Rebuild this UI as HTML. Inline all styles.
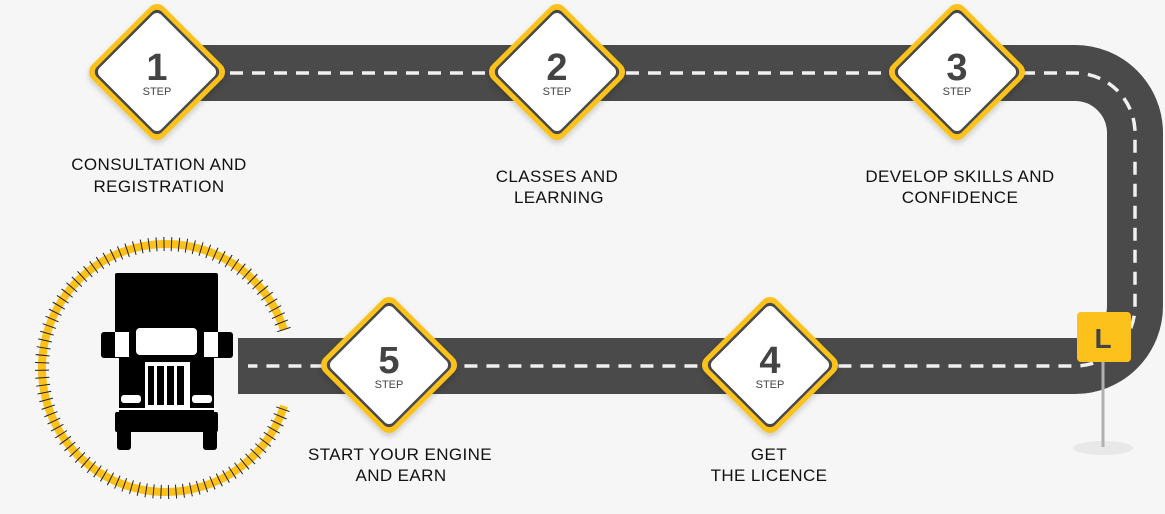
<!DOCTYPE html>
<html><head><meta charset="utf-8"><style>
html,body{margin:0;padding:0;background:#f6f6f6;}
svg{display:block;font-family:"Liberation Sans",Arial,sans-serif;}
</style></head><body>
<svg width="1165" height="514" viewBox="0 0 1165 514" xmlns="http://www.w3.org/2000/svg">
<defs>
<g id="dia">
  <rect x="-51" y="-51" width="102" height="102" rx="10" transform="rotate(45)" fill="#fcc21b"/>
  <rect x="-46" y="-46" width="92" height="92" rx="7" transform="rotate(45)" fill="#4a4a4a"/>
  <rect x="-43.5" y="-43.5" width="87" height="87" rx="6" transform="rotate(45)" fill="#fff"/>
</g>
<filter id="sh" x="-30%" y="-30%" width="160%" height="160%"><feDropShadow dx="0" dy="3" stdDeviation="3" flood-color="#000" flood-opacity="0.18"/></filter>
</defs>
<rect width="1165" height="514" fill="#f6f6f6"/>
<path d="M190 73 H1075 A60 60 0 0 1 1135 133 V306 A60 60 0 0 1 1075 366 H238" fill="none" stroke="#4a4a4a" stroke-width="56"/>
<path d="M230 73 H1075 A60 60 0 0 1 1135 133 V306 A60 60 0 0 1 1075 366 H238" fill="none" stroke="#f0f0f0" stroke-width="3.5" stroke-dasharray="13 9"/>
<ellipse cx="1103" cy="448" rx="30" ry="7" fill="#e8e8e8"/>
<rect x="1101.5" y="355" width="3" height="92" fill="#b0b0b0"/>
<rect x="1077" y="312" width="54" height="50" rx="4" fill="#fcc21b"/>
<text x="1103" y="348" text-anchor="middle" font-size="28" font-weight="bold" fill="#444">L</text>
<g filter="url(#sh)">
<use href="#dia" x="157" y="72"/>
<use href="#dia" x="557" y="72"/>
<use href="#dia" x="957" y="72"/>
<use href="#dia" x="770" y="365"/>
<use href="#dia" x="389" y="365"/>
</g>
<g fill="#444" text-anchor="middle">
<text x="157" y="80" font-size="38" font-weight="bold">1</text><text x="157" y="95" font-size="11">STEP</text>
<text x="557" y="80" font-size="38" font-weight="bold">2</text><text x="557" y="95" font-size="11">STEP</text>
<text x="957" y="80" font-size="38" font-weight="bold">3</text><text x="957" y="95" font-size="11">STEP</text>
<text x="770" y="373" font-size="38" font-weight="bold">4</text><text x="770" y="388" font-size="11">STEP</text>
<text x="389" y="373" font-size="38" font-weight="bold">5</text><text x="389" y="388" font-size="11">STEP</text>
</g>
<g fill="#111" text-anchor="middle" font-size="17" letter-spacing="0.4">
<text x="159" y="170">CONSULTATION AND</text><text x="159" y="192">REGISTRATION</text>
<text x="557" y="182">CLASSES AND</text><text x="559" y="203">LEARNING</text>
<text x="960" y="182">DEVELOP SKILLS AND</text><text x="960" y="203">CONFIDENCE</text>
<text x="400" y="460">START YOUR ENGINE</text><text x="401" y="481">AND EARN</text>
<text x="769" y="460">GET</text><text x="769" y="481">THE LICENCE</text>
</g>
<path d="M284 330 A124 124 0 1 0 284 406" fill="none" stroke="#fcc21b" stroke-width="8"/>
<path d="M284 330 A124 124 0 1 0 284 406" fill="none" stroke="#222" stroke-width="14" stroke-dasharray="1 6.5"/>
<g fill="#000">
<rect x="115" y="273" width="103" height="60" rx="2"/>
<rect x="119" y="300" width="95" height="115"/>
<rect x="101" y="332" width="28" height="26" rx="3"/>
<rect x="205" y="332" width="28" height="26" rx="3"/>
<rect x="115" y="412" width="103" height="20" rx="2"/>
<rect x="117" y="428" width="14" height="22" rx="3"/>
<rect x="203" y="428" width="14" height="22" rx="3"/>
</g>
<g fill="#fff">
<rect x="136" y="328" width="61" height="27" rx="4"/>
<rect x="145" y="362" width="45" height="46"/>
<rect x="121" y="395" width="20" height="8" rx="3"/>
<rect x="192" y="395" width="20" height="8" rx="3"/>
<rect x="115" y="332" width="14" height="25"/>
<rect x="204" y="332" width="14" height="25"/>
<rect x="115" y="408" width="103" height="2"/>
</g>
<g fill="#000">
<rect x="148" y="366" width="6" height="39"/><rect x="157" y="366" width="7" height="39"/><rect x="167" y="366" width="7" height="39"/><rect x="177" y="366" width="7" height="39"/>
</g>
<rect x="238" y="338" width="10" height="56" fill="#4a4a4a"/>
</svg>
</body></html>
